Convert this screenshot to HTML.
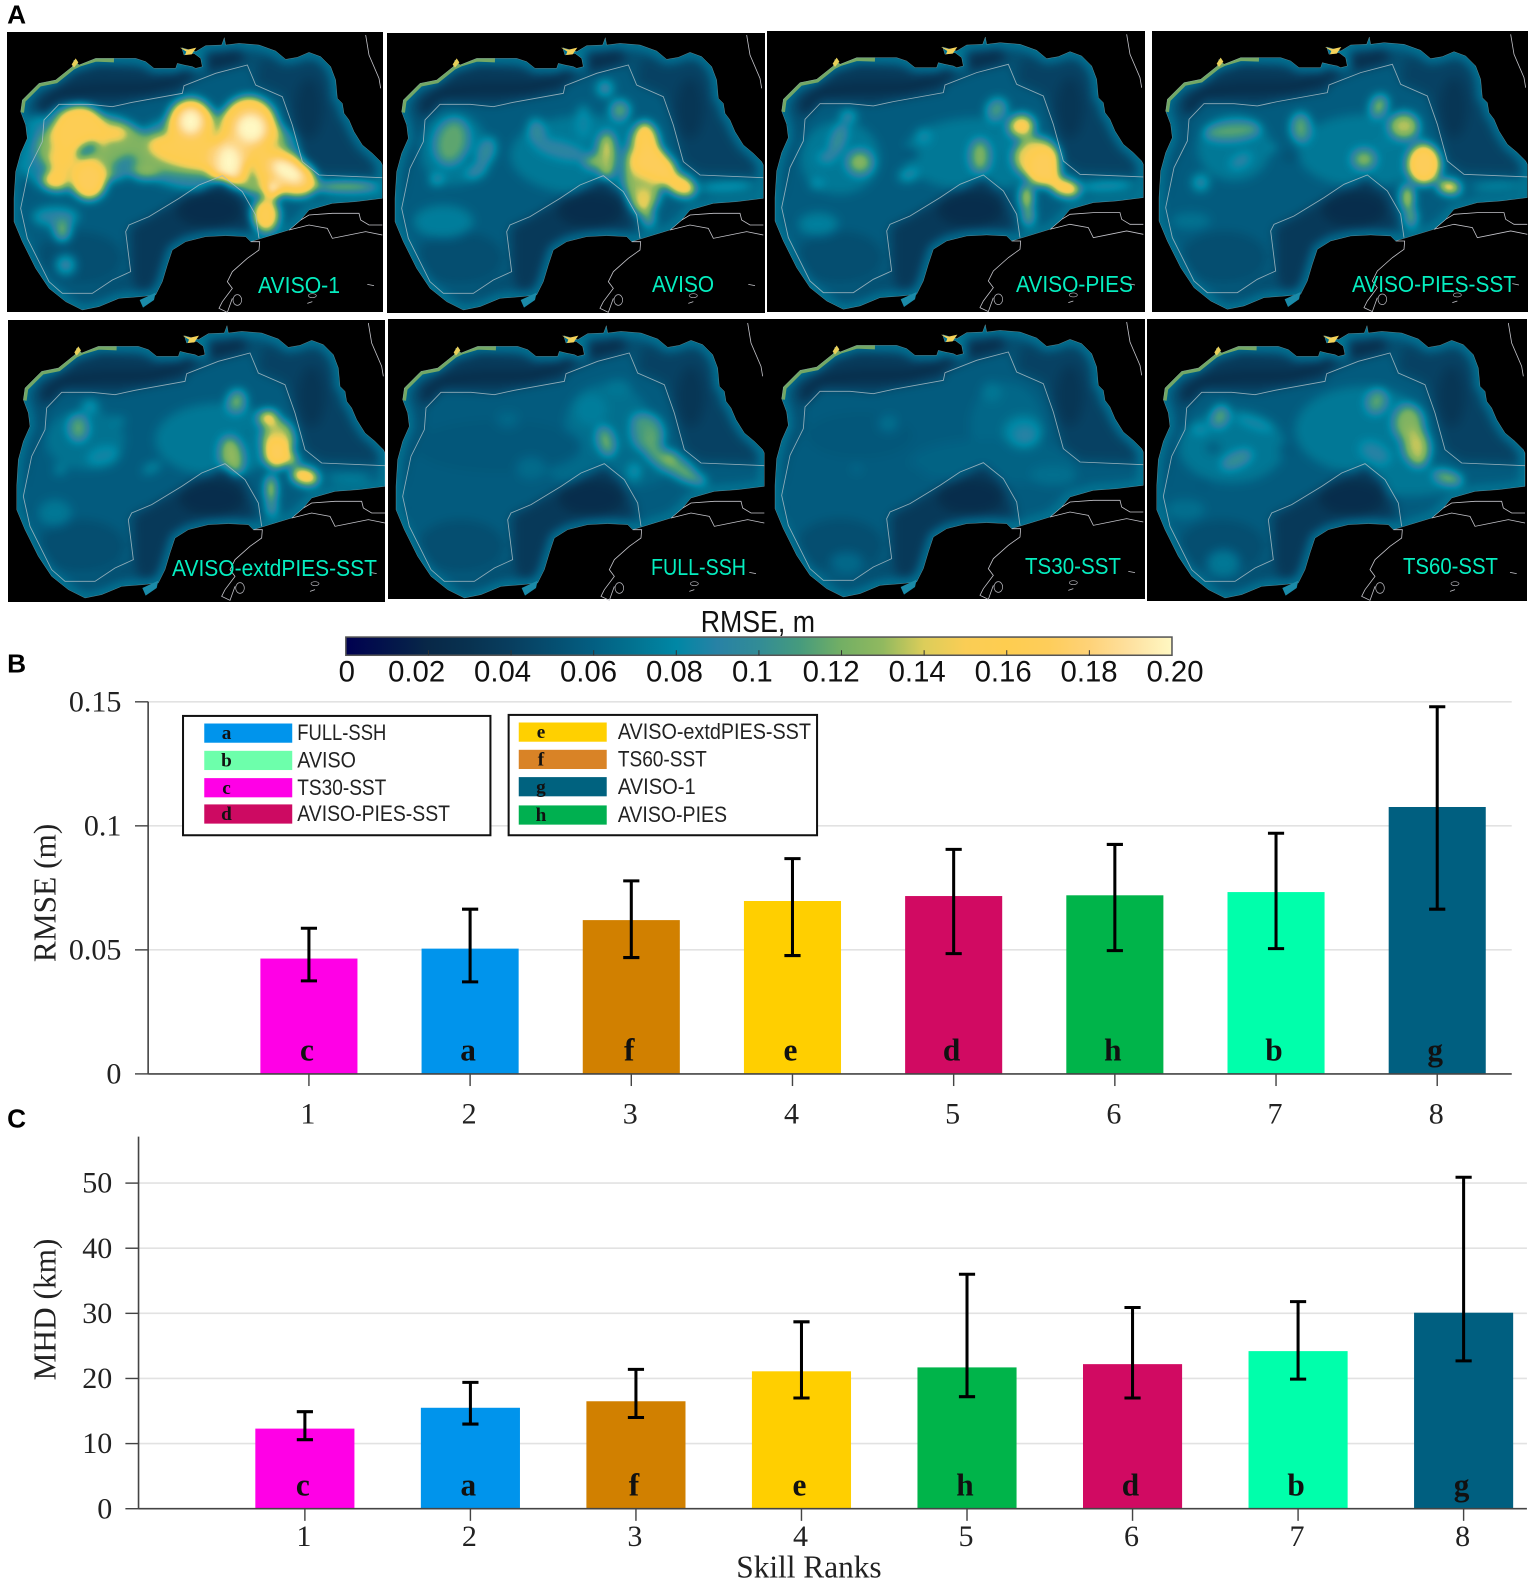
<!DOCTYPE html>
<html lang="en">
<head>
<meta charset="utf-8">
<title>RMSE and MHD skill ranks</title>
<style>
html,body{margin:0;padding:0;background:#fff}
svg{display:block}
text{font-family:"Liberation Sans",sans-serif}
.serif{font-family:"Liberation Serif",serif}
</style>
</head>
<body>
<svg id="fig" xmlns="http://www.w3.org/2000/svg" width="1535" height="1584" viewBox="0 0 1535 1584">
<defs>
<filter id="rmse-field" filterUnits="userSpaceOnUse" x="-100" y="-100" width="1400" height="1200" color-interpolation-filters="sRGB">
<feGaussianBlur stdDeviation="15"/>
<feComponentTransfer id="rmse-transfer"></feComponentTransfer>
</filter>
<linearGradient id="cbar-gradient" x1="0" x2="1" y1="0" y2="0"></linearGradient>
</defs>
<rect width="1535" height="1584" fill="#fff"/>
<g id="maps"></g>
<g transform="scale(1.0112)">
<g id="cbar"></g>
<g id="chartB"></g>
<g id="chartC"></g>
<g id="legends"></g>
<text x="7" y="23" font-size="26" font-weight="700">A</text>
<text x="7" y="665" font-size="26" font-weight="700">B</text>
<text x="7" y="1115" font-size="26" font-weight="700">C</text>
</g>
</svg>
<script>
// ---------- chart data ----------
const ranks = [1, 2, 3, 4, 5, 6, 7, 8];
const rmseLetters = ['c', 'a', 'f', 'e', 'd', 'h', 'b', 'g'];
const rmseValues = [0.0465, 0.0505, 0.062, 0.0697, 0.0717, 0.072, 0.0733, 0.1076];
const rmseUpper = [0.0587, 0.0664, 0.0778, 0.0868, 0.0905, 0.0925, 0.097, 0.148];
const rmseLower = [0.0375, 0.0371, 0.0469, 0.0477, 0.0485, 0.0497, 0.0505, 0.0664];
const rmseTicks = [0, 0.05, 0.1, 0.15];
const rmseTickLabels = ['0', '0.05', '0.1', '0.15'];
const mhdLetters = ['c', 'a', 'f', 'e', 'h', 'd', 'b', 'g'];
const mhdValues = [12.3, 15.5, 16.5, 21.1, 21.7, 22.2, 24.2, 30.1];
const mhdUpper = [14.9, 19.4, 21.4, 28.7, 36, 30.9, 31.8, 50.9];
const mhdLower = [10.6, 13, 14, 17, 17.2, 17, 19.9, 22.7];
const mhdTicks = [0, 10, 20, 30, 40, 50];
const legendLeft = [['a', 'FULL-SSH'], ['b', 'AVISO'], ['c', 'TS30-SST'], ['d', 'AVISO-PIES-SST']];
const legendRight = [['e', 'AVISO-extdPIES-SST'], ['f', 'TS60-SST'], ['g', 'AVISO-1'], ['h', 'AVISO-PIES']];
const colorbarLabels = ['0', '0.02', '0.04', '0.06', '0.08', '0.1', '0.12', '0.14', '0.16', '0.18', '0.20'];

const NS = 'http://www.w3.org/2000/svg';
const seriesColor = {a:'#0094ec', b:'#00ffab', c:'#ff00e6', d:'#d10a62', e:'#ffcf00', f:'#d18000', g:'#005f80', h:'#00b44a'};
const swatchColor = {a:'#0094ec', b:'#6dffab', c:'#ff00e6', d:'#cd0a62', e:'#ffd000', f:'#d98326', g:'#00627f', h:'#00b050'};
const legendTextWidth = {a:88, b:58, c:88, d:151, e:191, f:88, g:77, h:108};

function mk(parent, tag, attrs, txt) {
  const el = document.createElementNS(NS, tag);
  for (const k in attrs) el.setAttribute(k, attrs[k]);
  if (txt !== undefined) el.textContent = txt;
  parent.appendChild(el);
  return el;
}

// ---------- colormap ----------
const cmap = [[0,0,80],[3,20,75],[8,40,72],[8,50,80],[8,62,95],[5,78,112],[3,95,130],[2,115,145],[0,135,165],[40,130,165],[50,140,150],[70,155,125],[115,175,100],[145,185,95],[220,205,90],[250,205,85],[254,205,80],[254,205,90],[254,210,120],[254,225,160],[255,248,195]];
const transfer = document.getElementById('rmse-transfer');
['R','G','B'].forEach((c, i) => {
  mk(transfer, 'feFunc' + c, {type:'table', tableValues: cmap.map(p => (p[i] / 255).toFixed(3)).join(' ')});
});
const grad = document.getElementById('cbar-gradient');
cmap.forEach((p, i) => {
  mk(grad, 'stop', {offset: (i / 20), 'stop-color': 'rgb(' + p.join(',') + ')'});
});
function gray(v) { const g = Math.round(v / 0.2 * 255); return 'rgb(' + g + ',' + g + ',' + g + ')'; }

// ---------- map geometry (3x local coordinates) ----------
const basinPts = '1150,520 1150,420 1145,410 1120,385 1090,360 1065,320 1050,285 1035,265 1030,235 1015,220 1010,165 995,125 965,95 930,82 895,97 860,103 830,78 780,60 720,55 680,60 676,38 668,60 620,62 590,80 548,68 555,90 585,85 605,100 610,125 590,130 580,125 555,120 535,115 530,130 465,130 440,110 410,100 345,100 290,100 240,120 225,105 220,125 170,165 120,175 100,195 70,225 65,260 80,300 85,340 65,385 50,440 45,520 45,590 70,650 110,730 150,790 200,830 250,855 300,845 360,820 425,815 470,810 490,770 505,720 520,675 560,650 620,635 680,632 740,635 755,650 870,615 905,585 930,555 1000,535 1070,530 1150,520';
const isoLinePts = '780,640 770,570 730,500 670,452 600,480 540,520 450,575 390,600 380,620 395,740 340,765 280,805 190,805 150,770 85,640 65,550 90,430 130,350 135,285 180,238 270,238 340,245 400,232 550,205 555,182 650,145 745,120 770,180 850,215 880,300 910,410 960,450 1150,458';
const isoFillPts = isoLinePts + ' 1150,520 1000,535 930,555 870,615 780,640';
const campecheShelf = '400,610 540,530 670,462 725,510 755,600 740,640 520,680 500,790 420,815 400,745';
const floridaShelf = '880,300 910,410 960,440 1130,445 1110,390 1060,330 1030,270 1000,150 960,105 900,105 850,115 790,95 770,170 850,205';
const northShelf = '135,275 180,225 340,235 550,195 555,172 650,135 745,110 720,70 620,85 590,110 530,150 440,135 300,125 230,140 170,185 110,225';
const landLines = [
 '870,615 905,585 930,570 1000,565 1080,565 1085,585 1110,600 1150,600',
 '870,615 930,600 985,610 1000,640 1050,630 1100,620 1150,630',
 '755,650 782,650 780,675 745,700 700,740 685,770 700,790 670,830 660,850 685,862 700,820',
 '1100,30 1110,90 1140,160 1145,190',
 '1055,440 1095,430 1145,420',
 '1105,778 1125,782',
 '925,835 940,830'
];
const coastGreen = '65,262 70,225 100,195 120,175 170,165 220,125 240,115 290,100 345,102';

// ---------- per-panel layout ----------
const panels = [
 {box:[7,32,376,280], ox:-1, oy:25, name:'AVISO-1', lab:[258,340,293], blobs:[
  [200,375,150,130,0,.085],[650,380,260,120,0,.095],
  [280,370,170,100,0,.125],[600,380,220,70,0,.125],[770,380,90,130,0,.13],
  [240,325,80,85,20,.165],[190,400,35,40,0,.16],[170,465,38,28,0,.165],[270,465,52,58,0,.17],[340,325,42,17,0,.165],
  [265,375,40,20,-30,.09],[375,420,40,20,-30,.09],[440,445,40,18,0,.13],
  [600,385,150,45,10,.165],[575,295,70,75,0,.168],[575,290,38,42,0,.2],[750,305,85,90,0,.168],[755,310,48,48,0,.2],
  [690,405,70,75,0,.18],[690,410,36,50,0,.2],[760,445,15,35,0,.115],
  [860,445,100,60,25,.17],[865,440,55,30,30,.2],[820,495,25,25,0,.2],[1040,485,100,12,0,.15],[800,570,40,50,0,.165],
  [170,575,70,30,0,.09],[190,615,25,35,0,.12],[200,720,30,30,0,.095]]},
 {box:[387,33,378,280], ox:380, oy:25, name:'AVISO', lab:[652,714,292], blobs:[
  [620,390,230,120,0,.073],[220,370,100,110,0,.073],
  [215,350,50,70,15,.115],[170,465,20,15,0,.105],[320,380,25,45,20,.1],[290,440,35,18,-30,.1],[470,320,25,40,-10,.1],
  [610,290,22,50,0,.085],[675,190,25,25,0,.1],[720,255,30,30,0,.115],
  [540,375,80,25,15,.095],[680,390,28,70,0,.14],[650,410,40,20,0,.13],[790,440,60,130,0,.13],
  [800,350,35,60,-10,.165],[810,410,55,45,0,.17],[900,480,50,30,25,.165],[840,430,50,40,25,.17],
  [790,530,18,40,0,.15],[805,580,18,25,0,.125],[1040,485,85,10,-3,.105],
  [730,355,22,18,0,.07],[270,400,15,10,0,.065],[190,590,90,50,0,.075]]},
 {box:[767,31,378,281], ox:760, oy:24.3, name:'AVISO-PIES', lab:[1016,1133,292], blobs:[
  [650,390,220,110,0,.073],[240,400,120,110,0,.073],
  [265,275,25,18,0,.1],[235,345,20,50,20,.105],[200,400,25,12,0,.105],[300,415,40,38,0,.12],[298,412,15,15,0,.135],
  [490,335,22,22,0,.09],[445,452,30,18,-10,.095],[170,480,20,12,0,.095],[450,390,25,15,0,.05],
  [710,255,30,35,35,.11],[660,395,30,50,0,.125],[785,305,40,35,0,.15],[785,305,17,17,0,.165],[730,360,22,22,0,.075],
  [830,400,70,60,0,.145],[850,415,45,40,0,.17],[850,440,50,45,0,.17],[915,490,45,25,15,.17],[800,520,18,40,0,.15],
  [805,575,18,30,0,.125],[1040,485,85,10,-3,.11],[175,600,60,35,0,.076]]},
 {box:[1152,31,376,281], ox:1144, oy:24.3, name:'AVISO-PIES-SST', lab:[1352,1516,292], blobs:[
  [660,380,200,110,0,.073],[270,370,110,100,0,.073],
  [265,320,85,28,-5,.115],[470,310,30,45,0,.115],[290,410,35,18,-30,.095],[170,475,25,25,0,.095],[440,397,25,15,0,.05],[385,370,12,12,0,.085],
  [705,245,25,35,20,.125],[780,305,45,40,0,.135],[660,405,35,30,0,.125],[725,355,25,18,0,.075],
  [840,420,50,60,0,.17],[915,488,35,20,10,.165],[790,520,18,40,0,.15],[800,580,18,30,0,.125],[1060,485,80,8,-3,.095],
  [140,590,60,25,0,.07]]},
 {box:[8,320,377,282], ox:1.67, oy:313, name:'AVISO-extdPIES-SST', lab:[172,377,576], blobs:[
  [650,380,190,110,0,.073],[250,380,120,90,0,.07],
  [230,345,30,40,0,.115],[265,280,25,20,0,.09],[305,430,50,30,-15,.085],[450,465,30,12,-25,.085],[350,322,22,10,0,.08],[175,470,18,15,0,.08],
  [705,265,28,35,15,.12],[690,430,35,60,-10,.13],[735,365,15,22,0,.07],
  [800,315,30,22,0,.165],[830,380,50,60,0,.135],[825,420,38,45,0,.17],[870,440,20,15,0,.16],[910,490,42,25,15,.17],
  [808,530,15,45,0,.15],[810,585,15,25,0,.12],[1040,495,70,8,0,.09],[160,600,50,40,0,.072]]},
 {box:[388,319,379,280], ox:381, oy:313, name:'FULL-SSH', lab:[651,746,575], blobs:[
  [680,340,130,130,0,.068],[680,470,180,60,0,.066],[350,400,250,80,0,.056],
  [630,290,50,50,0,.075],[710,225,40,25,0,.072],[380,320,35,25,0,.064],[450,465,45,35,0,.066],
  [800,360,50,60,-15,.105],[870,450,90,30,30,.115],[790,330,40,25,20,.11],[810,380,30,40,0,.115],[870,432,20,15,0,.135],[930,495,50,15,15,.12],
  [675,385,25,45,-15,.12],[760,475,20,25,0,.09],[795,485,8,20,0,.06]]},
 {box:[767,319,378,280], ox:760, oy:312, name:'TS30-SST', lab:[1025,1121,574], blobs:[
  [740,340,110,130,0,.064],[700,450,250,70,0,.062],[300,370,160,70,0,.056],[420,500,70,25,-20,.058],
  [695,240,30,30,0,.072],[790,360,60,50,0,.08],[795,370,35,30,0,.09],[880,490,70,30,0,.068],[385,335,30,25,0,.068],[290,470,15,15,0,.066],
  [260,750,50,30,0,.065]]},
 {box:[1147,319,380,282], ox:1141.67, oy:313, name:'TS60-SST', lab:[1403,1498,574], blobs:[
  [660,350,200,130,0,.073],[270,400,160,110,0,.072],[800,500,150,50,0,.072],
  [235,310,25,35,20,.115],[175,350,25,12,0,.095],[340,330,60,15,20,.09],[285,440,50,22,-25,.105],[215,405,20,15,0,.055],[435,410,25,15,0,.055],[185,515,20,12,0,.055],
  [705,265,30,38,20,.115],[700,420,50,30,30,.09],[800,330,45,55,0,.125],[825,400,40,60,-10,.135],[825,395,8,8,0,.15],[920,495,45,20,15,.125],
  [245,750,50,40,0,.072],[130,590,60,30,0,.068]]}
];

const maps = document.getElementById('maps');
panels.forEach((p, idx) => {
  const slug = p.name.toLowerCase();
  const panel = mk(maps, 'g', {});
  
  
  mk(panel, 'rect', {x:p.box[0], y:p.box[1], width:p.box[2], height:p.box[3], fill:'#000'});
  const defs = mk(panel, 'defs', {});
  const cp = mk(defs, 'clipPath', {id:'basin-' + idx});
  mk(cp, 'polygon', {points: basinPts});
  const local = mk(panel, 'g', {transform:'translate(' + p.ox + ',' + p.oy + ') scale(0.33333)'});
  landLines.forEach(pts => {
    mk(local, 'polyline', {points:pts, fill:'none', stroke:'#c4c4ca', 'stroke-width':2.4});
  });
  mk(local, 'ellipse', {cx:715, cy:825, rx:13, ry:16, fill:'none', stroke:'#b5b5bb', 'stroke-width':2.2});
  mk(local, 'ellipse', {cx:940, cy:812, rx:12, ry:6, fill:'none', stroke:'#b5b5bb', 'stroke-width':2});
  const clip = mk(local, 'g', {'clip-path':'url(#basin-' + idx + ')'});
  const field = mk(clip, 'g', {filter:'url(#rmse-field)'});
  mk(field, 'rect', {x:-100, y:-100, width:1400, height:1200, fill:gray(.05)});
  mk(field, 'polygon', {points:isoFillPts, fill:gray(.058)});
  mk(field, 'ellipse', {cx:240, cy:700, rx:130, ry:80, fill:gray(.05)});
  p.blobs.forEach(b => {
    mk(field, 'ellipse', {cx:b[0], cy:b[1], rx:b[2], ry:b[3], transform:'rotate(' + b[4] + ' ' + b[0] + ' ' + b[1] + ')', fill:gray(b[5])});
  });
  mk(field, 'polygon', {points:campecheShelf, fill:gray(.036)});
  mk(field, 'ellipse', {cx:630, cy:555, rx:95, ry:50, fill:gray(.026)});
  mk(field, 'polygon', {points:floridaShelf, fill:gray(.042)});
  mk(field, 'ellipse', {cx:930, cy:250, rx:40, ry:90, fill:gray(.034)});
  mk(field, 'polygon', {points:northShelf, fill:gray(.036)});
  mk(field, 'polyline', {points:'125,262 180,205 300,190 450,190 540,160 620,120 720,95', fill:'none', stroke:gray(.026), 'stroke-width':26});
  mk(field, 'polygon', {points:basinPts, fill:'none', stroke:gray(.074), 'stroke-width':30});
  mk(clip, 'polyline', {points:coastGreen, fill:'none', stroke:'#7fae62', 'stroke-width':20, opacity:.9});
  mk(local, 'polygon', {points:basinPts, fill:'none', stroke:'#d8eef2', 'stroke-width':1.4, opacity:.45});
  mk(local, 'polygon', {points:'543,68 566,74 592,68 578,88 558,90 562,80', fill:'#f4d25a'});
  mk(local, 'polygon', {points:'218,118 230,100 238,112 225,128', fill:'#e8cf5a'});
  mk(local, 'polygon', {points:'422,825 470,803 465,825 432,848', fill:'#1a8aa8'});
  mk(local, 'polyline', {points:isoLinePts, fill:'none', stroke:'#a9bcc4', 'stroke-width':2.6, opacity:.85});
  const lab = mk(panel, 'text', {x:p.lab[0], y:p.lab[2], 'font-size':23, fill:'#05eec0', textLength:p.lab[1] - p.lab[0], lengthAdjust:'spacingAndGlyphs'}, p.name);
  
  
});

// ---------- colorbar ----------
const cbar = document.getElementById('cbar');
const cbLeft = 342, cbWidth = 817, cbTop = 630, cbHeight = 18;
const cbRect = mk(cbar, 'rect', {x:cbLeft, y:cbTop, width:cbWidth, height:cbHeight, fill:'url(#cbar-gradient)', stroke:'#555', 'stroke-width':1.5});


const cbTitle = mk(cbar, 'text', {x:693, y:625, 'font-size':30, fill:'#111', textLength:113, lengthAdjust:'spacingAndGlyphs'}, 'RMSE, m');


for (let i = 1; i < 10; i++) {
  const tx = cbLeft + cbWidth * i / 10;
  mk(cbar, 'line', {x1:tx, x2:tx, y1:cbTop + cbHeight - 5, y2:cbTop + cbHeight, stroke:'#333', 'stroke-width':1});
}
const cbLabelCenters = [343, 412, 497, 582, 667, 744, 822, 907, 992, 1077, 1162];
colorbarLabels.forEach((t, i) => {
  const el = mk(cbar, 'text', {x:cbLabelCenters[i], y:674, 'font-size':29, 'text-anchor':'middle', fill:'#111'}, t);
  
  
});

// ---------- bar charts ----------
function drawBars(root, cfg) {
  const xs = r => cfg.x0 + (r - 1) * cfg.step;
  const ys = v => cfg.y0 - v * cfg.scale;
  cfg.ticks.forEach((t, i) => {
    if (t !== 0) {
      const g = mk(root, 'line', {x1:cfg.axisX, x2:cfg.axisEnd, y1:ys(t), y2:ys(t), stroke:'#e2e2e2', 'stroke-width':1.6});
      
      
    }
    mk(root, 'line', {x1:cfg.axisX - 13, x2:cfg.axisX, y1:ys(t), y2:ys(t), stroke:'#444', 'stroke-width':1.4});
    const lbl = mk(root, 'text', {class:'serif', x:cfg.labelX, y:ys(t) + 9.5, 'font-size':29.7, 'text-anchor':'end', fill:'#222'}, cfg.tickLabels[i]);
    
    
  });
  ranks.forEach((r, i) => {
    const cx = xs(r), top = ys(cfg.values[i]);
    const bar = mk(root, 'rect', {x:cx - cfg.barW / 2, y:top, width:cfg.barW, height:cfg.y0 - top, fill:seriesColor[cfg.letters[i]]});
    
    
    const err = mk(root, 'path', {d:'M' + cx + ' ' + ys(cfg.upper[i]) + 'V' + ys(cfg.lower[i]) + 'M' + (cx - 8) + ' ' + ys(cfg.upper[i]) + 'H' + (cx + 8) + 'M' + (cx - 8) + ' ' + ys(cfg.lower[i]) + 'H' + (cx + 8), fill:'none', stroke:'#000', 'stroke-width':3});
    
    
    const letter = mk(root, 'text', {class:'serif', x:cx - 2, y:cfg.y0 - 13, 'font-size':31, 'font-weight':700, 'text-anchor':'middle', fill:'#111'}, cfg.letters[i]);
    
    
    mk(root, 'line', {x1:cx, x2:cx, y1:cfg.y0, y2:cfg.y0 + 12, stroke:'#444', 'stroke-width':1.4});
    const xl = mk(root, 'text', {class:'serif', x:cx - 1, y:cfg.xLabelY, 'font-size':29.7, 'text-anchor':'middle', fill:'#222'}, String(r));
    
    
  });
  const yAxis = mk(root, 'line', {x1:cfg.axisX, x2:cfg.axisX, y1:cfg.axisTop, y2:cfg.y0, stroke:'#444', 'stroke-width':1.6});
  
  
  const xAxis = mk(root, 'line', {x1:cfg.axisX, x2:cfg.axisEnd, y1:cfg.y0, y2:cfg.y0, stroke:'#444', 'stroke-width':1.6});
  
  
  const title = mk(root, 'text', {class:'serif', x:0, y:0, 'font-size':31, 'text-anchor':'middle', fill:'#222', transform:'translate(' + cfg.titleX + ',' + cfg.titleY + ') rotate(-90)'}, cfg.title);
  
  
}
drawBars(document.getElementById('chartB'), {
  x0:305.5, step:159.4, y0:1062, scale:2453, barW:96, axisX:146.5, axisEnd:1495, axisTop:694, labelX:120, xLabelY:1111,
  ticks:rmseTicks, tickLabels:rmseTickLabels, values:rmseValues, upper:rmseUpper, lower:rmseLower, letters:rmseLetters,
  title:'RMSE (m)', titleX:55, titleY:883
});
drawBars(document.getElementById('chartC'), {
  x0:301.5, step:163.7, y0:1492, scale:6.44, barW:98, axisX:137, axisEnd:1510, axisTop:1124, labelX:111, xLabelY:1529,
  ticks:mhdTicks, tickLabels:mhdTicks.map(String), values:mhdValues, upper:mhdUpper, lower:mhdLower, letters:mhdLetters,
  title:'MHD (km)', titleX:55, titleY:1295
});
const xTitle = mk(document.getElementById('chartC'), 'text', {class:'serif', x:800, y:1560, 'font-size':31, 'text-anchor':'middle', fill:'#222'}, 'Skill Ranks');



// ---------- legends ----------
function drawLegend(root, entries, box, swatchX, textX, rowYs) {
  const frame = mk(root, 'rect', {x:box[0], y:box[1], width:box[2], height:box[3], fill:'#fff', stroke:'#111', 'stroke-width':2});
  
  
  entries.forEach((e, i) => {
    const y = rowYs[i];
    const sw = mk(root, 'rect', {x:swatchX, y:y - 9.5, width:87, height:19, fill:swatchColor[e[0]]});
    
    
    const l = mk(root, 'text', {class:'serif', x:swatchX + 22, y:y + 6, 'font-size':19, 'font-weight':700, 'text-anchor':'middle', fill:'#111'}, e[0]);
    
    
    const t = mk(root, 'text', {x:textX, y:y + 7, 'font-size':22, fill:'#222', textLength:legendTextWidth[e[0]], lengthAdjust:'spacingAndGlyphs'}, e[1]);
    
    
  });
}
const legendsRoot = document.getElementById('legends');
drawLegend(legendsRoot, legendLeft, [181, 708, 304, 118], 202, 294, [725, 752, 779, 805]);
drawLegend(legendsRoot, legendRight, [503, 707, 305, 119], 513, 611, [724, 751, 778, 806]);
</script>
</body>
</html>
